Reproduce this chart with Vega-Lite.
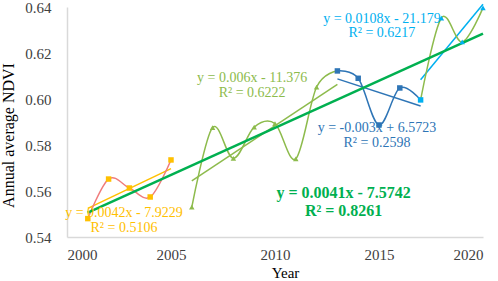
{
  "$schema": "https://vega.github.io/schema/vega-lite/v6.json",
  "width": 416,
  "height": 230,
  "autosize": "none",
  "padding": {"left": 67, "top": 7, "right": 15, "bottom": 44},
  "background": "white",
  "config": {
    "view": {"stroke": null},
    "font": "Liberation Serif"
  },
  "datasets": {
    "curves": [
      {"year": 2001, "ndvi": 0.548, "seg": "A"},
      {"year": 2002, "ndvi": 0.5652, "seg": "A"},
      {"year": 2003, "ndvi": 0.5613, "seg": "A"},
      {"year": 2004, "ndvi": 0.5574, "seg": "A"},
      {"year": 2005, "ndvi": 0.5735, "seg": "A"},
      {"year": 2006, "ndvi": 0.553, "seg": "B"},
      {"year": 2007, "ndvi": 0.5876, "seg": "B"},
      {"year": 2008, "ndvi": 0.5742, "seg": "B"},
      {"year": 2009, "ndvi": 0.5878, "seg": "B"},
      {"year": 2010, "ndvi": 0.5893, "seg": "B"},
      {"year": 2011, "ndvi": 0.574, "seg": "B"},
      {"year": 2012, "ndvi": 0.6052, "seg": "B"},
      {"year": 2013, "ndvi": 0.6122, "seg": "B"},
      {"year": 2013, "ndvi": 0.6122, "seg": "C"},
      {"year": 2014, "ndvi": 0.609, "seg": "C"},
      {"year": 2015, "ndvi": 0.5887, "seg": "C"},
      {"year": 2016, "ndvi": 0.6048, "seg": "C"},
      {"year": 2017, "ndvi": 0.5996, "seg": "C"},
      {"year": 2017, "ndvi": 0.5996, "seg": "D"},
      {"year": 2018, "ndvi": 0.6352, "seg": "D"},
      {"year": 2019, "ndvi": 0.6248, "seg": "D"},
      {"year": 2020, "ndvi": 0.6396, "seg": "D"}
    ],
    "markers": [
      {"year": 2001, "ndvi": 0.548, "mk": "sq_o"},
      {"year": 2002, "ndvi": 0.5652, "mk": "sq_o"},
      {"year": 2003, "ndvi": 0.5613, "mk": "sq_o"},
      {"year": 2004, "ndvi": 0.5574, "mk": "sq_o"},
      {"year": 2005, "ndvi": 0.5735, "mk": "sq_o"},
      {"year": 2006, "ndvi": 0.553, "mk": "tri_g"},
      {"year": 2007, "ndvi": 0.5876, "mk": "tri_g"},
      {"year": 2008, "ndvi": 0.5742, "mk": "tri_g"},
      {"year": 2009, "ndvi": 0.5878, "mk": "tri_g"},
      {"year": 2010, "ndvi": 0.5893, "mk": "tri_g"},
      {"year": 2011, "ndvi": 0.574, "mk": "tri_g"},
      {"year": 2012, "ndvi": 0.6052, "mk": "tri_g"},
      {"year": 2013, "ndvi": 0.6122, "mk": "sq_b"},
      {"year": 2014, "ndvi": 0.609, "mk": "sq_b"},
      {"year": 2015, "ndvi": 0.5887, "mk": "sq_b"},
      {"year": 2016, "ndvi": 0.6048, "mk": "sq_b"},
      {"year": 2017, "ndvi": 0.5996, "mk": "sq_c"},
      {"year": 2018, "ndvi": 0.6352, "mk": "tri_c"},
      {"year": 2019, "ndvi": 0.6248, "mk": "tri_c"},
      {"year": 2020, "ndvi": 0.6396, "mk": "tri_c"}
    ],
    "labels": [
      {"year": 2002.74, "ndvi": 0.5506, "text": "y = 0.0042x - 7.9229", "grp": "A"},
      {"year": 2002.74, "ndvi": 0.5441, "text": "R² = 0.5106", "grp": "A"},
      {"year": 2008.9, "ndvi": 0.6093, "text": "y = 0.006x - 11.376", "grp": "B"},
      {"year": 2008.9, "ndvi": 0.6028, "text": "R² = 0.6222", "grp": "B"},
      {"year": 2014.9, "ndvi": 0.5872, "text": "y = -0.003x + 6.5723", "grp": "C"},
      {"year": 2014.9, "ndvi": 0.5807, "text": "R² = 0.2598", "grp": "C"},
      {"year": 2015.14, "ndvi": 0.635, "text": "y = 0.0108x - 21.179", "grp": "D"},
      {"year": 2015.14, "ndvi": 0.6289, "text": "R² = 0.6217", "grp": "D"}
    ],
    "biglabels": [
      {"year": 2013.3, "ndvi": 0.5591, "text": "y = 0.0041x - 7.5742"},
      {"year": 2013.3, "ndvi": 0.5513, "text": "R² = 0.8261"}
    ]
  },
  "encoding": {
    "x": {
      "field": "year", "type": "quantitative",
      "scale": {"domain": [2000, 2020], "nice": false},
      "axis": {
        "title": "Year", "values": [2000, 2005, 2010, 2015, 2020], "format": "d",
        "grid": false, "ticks": false, "domainColor": "#D9D9D9", "domainWidth": 1.5,
        "labelFont": "Liberation Serif", "labelFontSize": 15, "labelColor": "#404040",
        "labelPadding": 10, "titleFont": "Liberation Serif", "titleFontSize": 15,
        "titleFontWeight": "normal", "titleColor": "#000000", "titlePadding": 3, "titleX": 218
      }
    },
    "y": {
      "field": "ndvi", "type": "quantitative",
      "scale": {"domain": [0.54, 0.64], "nice": false, "zero": false},
      "axis": {
        "title": "Annual average NDVI", "values": [0.54, 0.56, 0.58, 0.6, 0.62, 0.64], "format": ".2f",
        "grid": false, "ticks": false, "domainColor": "#D9D9D9", "domainWidth": 1.5,
        "labelFont": "Liberation Serif", "labelFontSize": 15, "labelColor": "#404040",
        "labelPadding": 16, "titleFont": "Liberation Serif", "titleFontSize": 16,
        "titleFontWeight": "normal", "titleColor": "#000000", "titlePadding": 8, "titleY": 128
      }
    }
  },
  "layer": [
    {
      "data": {"name": "curves"},
      "transform": [{"regression": "ndvi", "on": "year", "groupby": ["seg"]}],
      "mark": {"type": "line", "strokeWidth": 1.5},
      "encoding": {
        "color": {"field": "seg", "type": "nominal",
          "scale": {"domain": ["A", "B", "C", "D"], "range": ["#FFC000", "#8DBB4C", "#2E75B6", "#00B0F0"]},
          "legend": null}
      }
    },
    {
      "data": {"name": "curves"},
      "mark": {"type": "line", "strokeWidth": 1.5, "interpolate": "cardinal"},
      "encoding": {
        "detail": {"field": "seg"},
        "color": {"field": "seg", "type": "nominal",
          "scale": {"domain": ["A", "B", "C", "D"], "range": ["#F07C7C", "#8DBB4C", "#2E75B6", "#8DBB4C"]},
          "legend": null}
      }
    },
    {
      "data": {"name": "markers"},
      "transform": [{"regression": "ndvi", "on": "year"}],
      "mark": {"type": "line", "strokeWidth": 2.5, "color": "#00B050"},
      "encoding": {}
    },
    {
      "data": {"name": "markers"},
      "mark": {"type": "point", "filled": true, "size": 30, "opacity": 1},
      "encoding": {
        "shape": {"field": "mk", "type": "nominal",
          "scale": {"domain": ["sq_o", "tri_g", "sq_b", "sq_c", "tri_c"], "range": ["square", "triangle-up", "square", "square", "triangle-up"]},
          "legend": null},
        "color": {"field": "mk", "type": "nominal",
          "scale": {"domain": ["sq_o", "tri_g", "sq_b", "sq_c", "tri_c"], "range": ["#FFC000", "#8DBB4C", "#2E75B6", "#00B0F0", "#00B0F0"]},
          "legend": null}
      }
    },
    {
      "data": {"name": "labels"},
      "mark": {"type": "text", "font": "Liberation Serif", "fontSize": 14, "align": "center", "baseline": "middle"},
      "encoding": {
        "text": {"field": "text"},
        "color": {"field": "grp", "type": "nominal",
          "scale": {"domain": ["A", "B", "C", "D"], "range": ["#FFC000", "#8DBB4C", "#2E75B6", "#00B0F0"]},
          "legend": null}
      }
    },
    {
      "data": {"name": "biglabels"},
      "mark": {"type": "text", "font": "Liberation Serif", "fontSize": 16, "fontWeight": "bold", "align": "center", "baseline": "middle", "color": "#00B050"},
      "encoding": {"text": {"field": "text"}}
    }
  ],
  "resolve": {"scale": {"color": "independent", "shape": "independent"}}
}
